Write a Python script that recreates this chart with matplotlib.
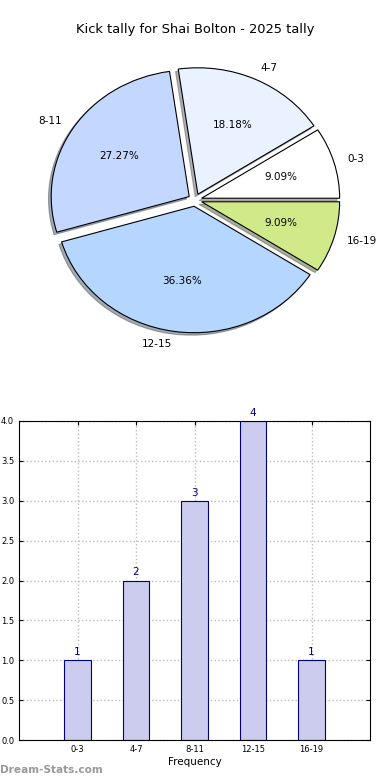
import matplotlib.pyplot as plt
import numpy as np

# data
labels = ['0-3', '4-7', '8-11', '12-15', '16-19']
counts = [1, 2, 3, 4, 1]
pie_colors = ['#ffffff', '#eaf2ff', '#c4d8ff', '#b4d6ff', '#d0ea8a']
title = 'Kick tally for Shai Bolton - 2025 tally'

fig = plt.figure(figsize=(3.9, 7.8), dpi=100)

# pie (not equal aspect, a bit squashed like the original)
ax1 = fig.add_axes([0.0, 384 / 780, 1.0, 392 / 780])
ax1.pie(counts, labels=labels, colors=pie_colors, explode=[0.05] * 5,
        autopct='%1.2f%%', startangle=0,
        shadow={'ox': -0.014, 'oy': -0.014, 'shade': 0.6},
        wedgeprops={'edgecolor': 'black', 'linewidth': 0.8},
        textprops={'fontsize': 7.5})
ax1.set_aspect('auto')
ax1.set_xlim(-1.413, 1.413)
ax1.set_ylim(-1.55, 1.55)
fig.text(0.5, 1 - 30 / 780, title, ha='center', va='center', fontsize=9.4)

# bars
ax2 = fig.add_axes([19 / 390, 40 / 780, 351 / 390, 319 / 780])
x = np.arange(len(labels))
ax2.bar(x, counts, width=0.45, color='#ccccee', edgecolor='navy',
        linewidth=0.8, zorder=2)
for xi, c in zip(x, counts):
    ax2.text(xi, c + 0.04, str(c), ha='center', va='bottom',
             color='navy', fontsize=7.5)
ax2.set_xlim(-1, 5)
ax2.set_ylim(0, 4)
ax2.set_xticks(x)
ax2.set_xticklabels(labels)
ax2.set_yticks(np.arange(0, 4.01, 0.5))
ax2.tick_params(labelsize=6, direction='in', top=True, right=True, length=3)
ax2.grid(linestyle=':', color='#bbbbbb', linewidth=1, zorder=0)
ax2.set_axisbelow(True)
ax2.set_xlabel('Frequency', fontsize=7.5, labelpad=2)

fig.text(0.0, 1 - 770 / 780, 'Dream-Stats.com', color='#999999',
         fontsize=7.6, fontweight='bold', ha='left', va='center')

fig.savefig('out.png', dpi=100)
